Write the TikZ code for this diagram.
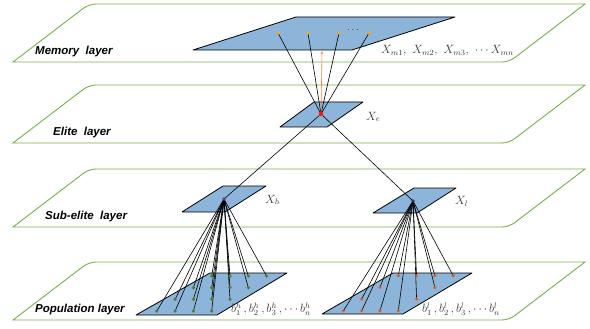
\documentclass[tikz,border=0pt]{standalone}
\usepackage{fontspec}
\newfontfamily\judulfont{Liberation Sans}
\usetikzlibrary{arrows.meta}
\definecolor{hijau}{RGB}{118,176,76}
\definecolor{biru}{RGB}{141,180,217}
\definecolor{oranye}{RGB}{240,168,30}
\definecolor{jingga}{RGB}{240,130,70}
\definecolor{hijautua}{RGB}{84,122,52}
\definecolor{bata}{RGB}{212,98,44}
\definecolor{merah}{RGB}{232,30,30}
\definecolor{ungu}{RGB}{122,52,150}
\definecolor{abu}{RGB}{55,55,55}
\pgfdeclarelayer{depan}
\pgfsetlayers{main,depan}
\begin{document}
\begin{tikzpicture}[x=1pt,y=-1pt,
      lapisan/.style={draw=hijau,line width=0.9pt},
      judul/.style={anchor=west,inner sep=0pt,
        font=\judulfont\bfseries\itshape\fontsize{11.5}{12}\selectfont},
      bidang/.style={draw=black,fill=biru,line width=0.8pt,line join=round},
      garis/.style={line width=0.6pt},
      titik/.style={circle,inner sep=0pt,minimum size=3.6pt},
      teks/.style={anchor=west,inner sep=0pt,text=abu,
        font=\fontsize{12}{13}\selectfont}]
    \useasboundingbox (0,0) rectangle (590,329);

    % Lapisan: memori, elit, sub-elit, populasi
    \foreach \t/\lx/\nama [count=\i] in {4/35/Memory\ \ layer,
        85/53/Elite\ \ layer,169/45/Sub-elite\ \ layer,262/35/Population layer}{
      \draw[lapisan] (13,\t+58) [rounded corners=7pt] -- (89,\t) [sharp corners]
        -- (585,\t) [rounded corners=7pt] -- (509,\t+58) [sharp corners] -- cycle;
      \node[judul] (lap\i) at (\lx,\t+48) {\nama};
    }

    % Bidang biru
    \draw[bidang] (193,50) -- (352,50) -- (455,17) -- (296,17) -- cycle;
    \draw[bidang] (280,127) -- (327,127) -- (363,102) -- (314,102) -- cycle;
    \draw[bidang] (182,212) -- (225,212) -- (266,186) -- (223,186) -- cycle;
    \draw[bidang] (373,213) -- (417,213) -- (456,188) -- (414,188) -- cycle;
    \draw[bidang] (136,315) -- (217,315) -- (287,273) -- (210,273) -- cycle;
    \draw[bidang] (322,314) -- (403,314) -- (472,273) -- (393,273) -- cycle;

    % Titik-titik
    \begin{pgfonlayer}{depan}
      \foreach \x [count=\i] in {278,308,339,369}
        \node[titik,fill=oranye] (m\i) at (\x,33) {};
      \node[fill=merah,inner sep=0pt,minimum size=3.4pt] (xe) at (321,114) {};
      \node[titik,fill=ungu] (xh) at (224,199) {};
      \node[titik,fill=abu] (xl) at (413,201) {};
      \foreach \i in {0,...,3}
        \foreach \j in {0,...,3}
          \node[titik,fill=hijautua] (h\i\j) at ({211.7+18.3*(\j-\i)},{276+11.67*\i}) {};
      \foreach \i/\j in {0/0,0/1,0/2,0/3,1/0,1/3,2/0,2/3,3/0,3/1,3/2,3/3}
        \node[titik,fill=bata] (l\i\j) at ({398.3+18.3*(\j-\i)},{275.7+11.67*\i}) {};
    \end{pgfonlayer}
    \node[text=abu,inner sep=0pt] (tiga) at (353,30) {$\cdots$};

    % Garis penghubung
    \foreach \i in {1,...,4}
      \draw[garis] (xe.center) -- (m\i.center);
    \coordinate (ujung) at (322,51);
    \draw[jingga,line width=0.6pt,-{Stealth[length=3pt,width=2.4pt]}] (xe.center) -- (ujung);
    \draw[garis] (xe.center) -- (xh.center);
    \draw[garis] (xe.center) -- (xl.center);
    \foreach \i in {0,...,3}
      \foreach \j in {0,...,3}
        \draw[garis] (xh.center) -- (h\i\j.center);
    \foreach \i/\j in {0/0,0/1,0/2,0/3,1/0,1/3,2/0,2/3,3/0,3/1,3/2,3/3}
      \draw[garis] (xl.center) -- (l\i\j.center);

    % Keterangan
    \node[teks] (km) at (381,51) {$X_{m1},\ X_{m2},\ X_{m3},\ \cdots X_{mn}$};
    \node[teks] (ke) at (366,117) {$X_e$};
    \node[teks] (kh) at (265,200) {$X_h$};
    \node[teks] (kl) at (455,201) {$X_l$};
    \node[teks] (kbh) at (231,309) {$b^h_1\,,b^h_2\,,b^h_3\,,\cdots b^h_n$};
    \node[teks] (kbl) at (422,309) {$b^l_1\,,b^l_2\,,b^l_3\,,\cdots b^l_n$};
  \end{tikzpicture}
\end{document}
